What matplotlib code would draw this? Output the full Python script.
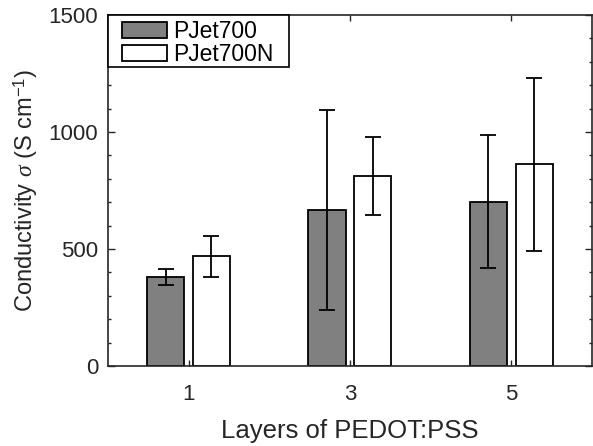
import matplotlib
matplotlib.use("Agg")
import matplotlib.pyplot as plt
import numpy as np
from matplotlib.ticker import MultipleLocator
from matplotlib.patches import Rectangle
from matplotlib.transforms import IdentityTransform

plt.rcParams['font.family'] = ['Liberation Sans', 'DejaVu Sans']
plt.rcParams['mathtext.fontset'] = 'custom'
plt.rcParams['mathtext.rm'] = 'Liberation Sans'
plt.rcParams['mathtext.it'] = 'Liberation Serif:italic'

categories = ['1', '3', '5']
pjet700 = [380, 667, 702]
pjet700_err = [33, 428, 285]
pjet700n = [468, 812, 862]
pjet700n_err = [87, 165, 370]

fig = plt.figure(figsize=(5.93, 4.46), dpi=100)
ax = fig.add_axes([0.182, 0.1794, 0.816, 0.787])

x = np.arange(len(categories))
w = 0.23
off = 0.142
ax.bar(x - off, pjet700, w, color='#808080', edgecolor='black', linewidth=1.3,
       label='PJet700', zorder=2)
ax.bar(x + off, pjet700n, w, color='white', edgecolor='black', linewidth=1.3,
       label='PJet700N', zorder=2)
ax.errorbar(x - off, pjet700, yerr=pjet700_err, fmt='none', ecolor='black',
            elinewidth=1.3, capsize=6, capthick=1.3, zorder=3)
ax.errorbar(x + off, pjet700n, yerr=pjet700n_err, fmt='none', ecolor='black',
            elinewidth=1.3, capsize=6, capthick=1.3, zorder=3)

ax.set_xlim(-0.5, 2.5)
ax.set_ylim(0, 1500)
ax.set_xticks(x)
ax.set_xticklabels(categories)
ax.yaxis.set_major_locator(MultipleLocator(500))
ax.yaxis.set_minor_locator(MultipleLocator(100))
ax.tick_params(axis='both', which='both', direction='in', top=True, right=True,
               labelsize=16, colors='#262626')
ax.tick_params(axis='y', which='major', length=5, width=1, pad=7)
ax.tick_params(axis='y', which='minor', length=2.5, width=1)
ax.tick_params(axis='x', which='major', length=4, width=1, pad=13)
for s in ax.spines.values():
    s.set_linewidth(1.2)
    s.set_color('#262626')

ax.set_xlabel('Layers of PEDOT:PSS', fontsize=18.5, color='#262626', labelpad=10)
ax.set_ylabel(r'Conductivity $\sigma$ (S cm$^{-1}$)', fontsize=17, color='#262626', labelpad=6)

# legend content (frame drawn separately to mimic MATLAB's tight box)
ax_w_px = 0.816 * 593
ax_h_px = 0.787 * 446
leg = ax.legend(loc='upper left', fontsize=16.5, frameon=False,
                borderpad=0.0, labelspacing=0.0,
                handlelength=1.95, handleheight=0.74, handletextpad=0.3,
                borderaxespad=0.0,
                bbox_to_anchor=(14 / ax_w_px, 1 - 5 / ax_h_px))
fig.canvas.draw()
bb = leg.get_window_extent()
ax_bb = ax.get_window_extent()
x0 = ax_bb.x0
y1 = ax_bb.y1
frame = Rectangle((x0, bb.y0 - 1), bb.x1 + 15 - x0, y1 - (bb.y0 - 1),
                  transform=IdentityTransform(), facecolor='white',
                  edgecolor='black', linewidth=1.2, zorder=4)
fig.add_artist(frame)
leg.remove()
fig.add_artist(leg)
leg.set_zorder(6)

fig.savefig('out.png', dpi=100)
